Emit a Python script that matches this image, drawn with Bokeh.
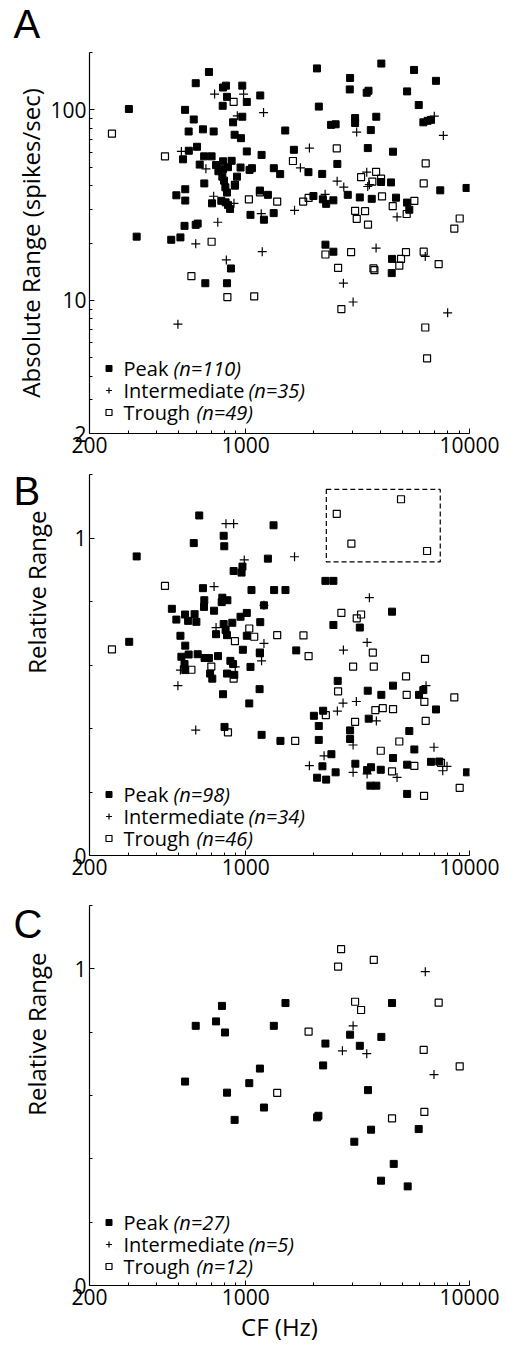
from bokeh.plotting import figure
from bokeh.layouts import column
from bokeh.models import (Range1d, FixedTicker, NumeralTickFormatter, Label, Legend,
                          LegendItem, BoxAnnotation, Title)
from bokeh.embed import file_html
from bokeh.resources import INLINE

FONT = "Open Sans"

# ---------------- data ----------------
x_ticks = [200, 1000, 10000]
x_minor = [300, 400, 500, 600, 700, 800, 900, 2000, 3000, 4000, 5000, 6000, 7000, 8000, 9000]
series_names = ["Peak", "Intermediate", "Trough"]

# Panel A: absolute range (spikes/sec)
a_peak_cf = [684, 597, 791, 815, 964, 824, 1160, 1010, 788, 300,
             535, 964, 877, 585, 643, 555, 718, 891, 951, 605,
             556, 524, 1010, 1176, 651, 703, 622, 736, 791, 864,
             754, 791, 832, 947, 1039, 1065, 1334, 1424, 785, 799,
             913, 652, 810, 824, 894, 536, 489, 536, 706, 777,
             812, 832, 850, 1156, 1255, 1332, 1049, 1205, 532, 597,
             609, 325, 464, 510, 858, 659, 824,
             2080, 4035, 5650, 7080, 2925, 2915, 3470, 3535, 5260, 2120,
             5930, 3830, 3080, 3080, 2405, 2520, 6220, 6500, 6730, 1500,
             3620, 1640, 3510, 4550, 2565, 1905, 2195, 4023, 4458, 7400,
             9700, 2856, 3233, 3656, 4694, 2005, 2210, 2286, 2463, 5257,
             5381, 2270, 2463, 4504, 4490]
a_peak_val = [158, 138, 131, 134, 134, 117, 119, 110, 105, 101,
              100, 92, 86, 89, 79, 77, 77, 74, 71, 64,
              61, 55, 60.5, 58, 57, 57, 51.6, 51.3, 53.7, 54,
              47.6, 48.8, 50, 49.8, 48.4, 49.4, 49.4, 46, 44.6, 42.5,
              44.6, 41.1, 39.2, 36.8, 40, 38.3, 35.6, 33.4, 32.3, 33.3,
              32.7, 31.7, 30.2, 37.7, 35.8, 28.7, 28.1, 26.5, 24.6, 24.9,
              25.3, 21.6, 20.8, 21.4, 14.7, 12.3, 12.3,
              165, 175, 162, 142, 147, 128, 123, 126, 125, 104,
              106, 92, 90.5, 85.3, 83.4, 84, 86, 87.6, 88.6, 77.9,
              78.3, 61.7, 63, 60.3, 52, 47.1, 46.1, 41.8, 41.6, 37.8,
              38.9, 35.8, 34.7, 34.1, 34.6, 35.3, 33.9, 32.1, 33.5, 32.6,
              29.9, 19.6, 18, 16.5, 13.9]
a_inter_cf = [725, 977, 1200, 916, 515, 663, 718, 885, 1172, 749, 597, 818, 1184, 497,
              6960, 3130, 7640, 1924, 1754, 2560, 2741, 3472, 3508, 3567, 2262, 1651,
              4743, 3822, 6343, 2730, 3017, 7986]
a_inter_val = [121, 121, 96.8, 93, 60.5, 49, 35.2, 32.3, 28.5, 25.7, 19.8, 16.3, 18, 7.5,
               92.6, 76.4, 73.4, 63, 49.6, 42.2, 39.3, 47.1, 39.6, 40.5, 36, 29.7,
               27.4, 18.8, 17, 12.3, 9.8, 8.6]
a_trough_cf = [882, 252, 435, 894, 1032, 1156, 1381, 703, 571, 827, 1090, 2550, 1624, 6370,
               3822, 3275, 3678, 4023, 6240, 4063, 1804, 1908, 4537, 5668, 3079, 3412, 3132,
               5238, 3517, 9040, 8552, 2269, 2955, 2585, 3757, 4941, 5200, 4855, 6240, 7280,
               2674, 6343, 6460, 3720]
a_trough_val = [110, 75, 57, 40.4, 33.9, 36.9, 33, 20.3, 13.4, 10.4, 10.5, 62.7, 53.9, 52.4,
                47.3, 44.3, 42, 43.5, 41.1, 35.1, 33, 34.5, 31.2, 33.3, 29.5, 29.4, 26.8,
                28.4, 25, 26.9, 23.8, 17.4, 17.9, 14.8, 14.4, 16.5, 17.9, 15.2, 18, 15.5,
                9, 7.2, 4.96, 14.7]
a_counts = [110, 35, 49]

# Panel B: relative range
b_peak_cf = [619, 1330, 796, 585, 801, 325, 1255, 966, 957, 882,
             643, 1060, 1338, 652, 650, 785, 780, 827, 1205, 467,
             721, 535, 590, 601, 552, 489, 1010, 947, 870, 1160,
             796, 812, 824, 736, 510, 301, 536, 970, 1010, 515,
             555, 609, 654, 684, 751, 853, 1156, 532, 536, 692,
             708, 824, 877, 888, 1049, 791, 1152, 1036, 803, 1176,
             1428, 1504, 2269, 2463, 4504, 2463, 3233, 1680, 2575, 3508,
             4035, 4551, 5948, 6216, 2015, 2216, 7082, 2119, 3543, 2925,
             5381, 2119, 2925, 5668, 4551, 2413, 3088, 2200, 5262, 6727,
             7327, 9744, 2083, 2286, 2520, 3485, 3630, 4011, 3604, 3833, 5262]
b_peak_val = [1.071, 1.040, 1.007, 0.984, 0.974, 0.942, 0.935, 0.910, 0.891, 0.896,
              0.842, 0.836, 0.836, 0.804, 0.783, 0.812, 0.798, 0.804, 0.788, 0.777,
              0.771, 0.759, 0.760, 0.736, 0.739, 0.743, 0.764, 0.752, 0.733, 0.735,
              0.729, 0.710, 0.694, 0.697, 0.692, 0.673, 0.661, 0.648, 0.692, 0.626,
              0.633, 0.634, 0.622, 0.622, 0.628, 0.613, 0.637, 0.603, 0.584, 0.573,
              0.557, 0.573, 0.603, 0.569, 0.594, 0.508, 0.524, 0.479, 0.405, 0.380,
              0.361, 0.836, 0.865, 0.865, 0.768, 0.726, 0.718, 0.646, 0.550, 0.519,
              0.506, 0.535, 0.506, 0.521, 0.440, 0.456, 0.460, 0.408, 0.431, 0.394,
              0.392, 0.364, 0.367, 0.334, 0.307, 0.319, 0.289, 0.281, 0.286, 0.295,
              0.296, 0.262, 0.245, 0.239, 0.262, 0.269, 0.278, 0.270, 0.220, 0.220, 0.194]
b_inter_cf = [815, 882, 984, 721, 736, 1205, 1205, 510, 897, 1176, 497, 597, 1651, 3567,
              2730, 3485, 6392, 2720, 3120, 2566, 3833, 3017, 6937, 2238, 1924, 7933, 7590,
              3017, 3485, 4743]
b_inter_val = [1.045, 1.045, 0.931, 0.847, 0.718, 0.668, 0.788, 0.584, 0.594, 0.613, 0.535,
               0.395, 0.941, 0.812, 0.647, 0.671, 0.535, 0.480, 0.485, 0.455, 0.424, 0.348,
               0.341, 0.314, 0.283, 0.281, 0.267, 0.262, 0.257, 0.246]
b_trough_cf = [435, 252, 1036, 1090, 894, 1381, 1156, 571, 701, 882, 832, 4941, 2550, 2964,
               6460, 2674, 3275, 3132, 1810, 1908, 3696, 6325, 3017, 3733, 5203, 2585, 5238,
               6283, 8552, 2279, 3794, 4095, 4551, 3079, 6370, 1662, 4855, 4011, 5668, 7456,
               4504, 6263, 9040]
b_trough_val = [0.849, 0.649, 0.715, 0.689, 0.675, 0.694, 0.639, 0.585, 0.595, 0.557, 0.388,
                1.122, 1.076, 0.982, 0.959, 0.764, 0.759, 0.747, 0.693, 0.628, 0.639, 0.619,
                0.595, 0.595, 0.564, 0.517, 0.506, 0.484, 0.498, 0.442, 0.458, 0.464, 0.461,
                0.421, 0.424, 0.361, 0.359, 0.330, 0.282, 0.292, 0.265, 0.188, 0.213]
b_counts = [98, 34, 46]
b_box_cf = [2290, 7400]
b_box_val = [0.925, 1.153]

# Panel C: relative range
c_peak_cf = [782, 597, 736, 807, 1334, 1156, 535, 1036, 824, 1205, 891, 2083, 2111, 3055,
             3630, 5927, 4583, 4023, 5292, 1504, 4504, 2269, 2925, 3233, 4035, 2216, 3517]
c_peak_val = [0.883, 0.820, 0.834, 0.799, 0.820, 0.685, 0.644, 0.639, 0.609, 0.562, 0.523,
              0.531, 0.536, 0.454, 0.492, 0.494, 0.384, 0.331, 0.313, 0.892, 0.892, 0.764,
              0.792, 0.757, 0.785, 0.695, 0.617]
c_inter_cf = [6343, 3017, 2703, 3472, 6937]
c_inter_val = [0.991, 0.820, 0.741, 0.732, 0.666]
c_trough_cf = [1381, 4504, 6283, 2666, 2585, 3733, 3079, 3275, 7280, 1908, 6240, 9040]
c_trough_val = [0.608, 0.528, 0.548, 1.062, 1.007, 1.028, 0.896, 0.870, 0.893, 0.802,
                0.744, 0.692]
c_counts = [27, 5, 12]

# ---------------- layout helpers ----------------
TEXT_DX = 34                 # legend text start (px from frame left)
ITALIC_DX = [84, 159, 107]   # italic count start (px from frame left)
ROW_H = 22


def style_axis(ax, label_size="21px"):
    ax.axis_line_color = "black"
    ax.axis_line_width = 1.2
    ax.major_tick_in = 5
    ax.major_tick_out = 0
    ax.minor_tick_in = 3
    ax.minor_tick_out = 0
    ax.major_tick_line_color = "black"
    ax.minor_tick_line_color = "black"
    ax.major_label_text_font = FONT
    ax.major_label_text_font_size = label_size
    ax.major_label_text_color = "black"
    ax.axis_label_text_font = FONT
    ax.axis_label_text_font_size = "24px"
    ax.axis_label_text_font_style = "normal"
    ax.axis_label_text_color = "black"


def make_panel(height, top, bottom, log_y, y_range, y_ticks, y_minor, ylabel,
               ylabel_standoff, ylabel_align, ylabel_offset, letter, letter_dy, series,
               counts, legend_y, xlabel=None):
    p = figure(width=507, height=height, x_axis_type="log",
               y_axis_type="log" if log_y else "linear",
               x_range=Range1d(200, 10000), y_range=Range1d(*y_range),
               output_backend="svg", toolbar_location=None,
               min_border_left=88, min_border_right=38,
               min_border_top=top, min_border_bottom=bottom)
    p.outline_line_color = None
    p.xgrid.visible = False
    p.ygrid.visible = False

    style_axis(p.xaxis[0])
    style_axis(p.yaxis[0])
    p.xaxis.ticker = FixedTicker(ticks=x_ticks, minor_ticks=x_minor)
    p.xaxis.formatter = NumeralTickFormatter(format="0")
    p.xaxis.major_label_standoff = 3
    p.yaxis.ticker = FixedTicker(ticks=y_ticks, minor_ticks=y_minor)
    p.yaxis.formatter = NumeralTickFormatter(format="0")
    p.yaxis.major_label_standoff = 3
    if xlabel:
        p.xaxis.axis_label = xlabel
        p.xaxis.axis_label_standoff = 2

    # y axis title (vertical), placed along the axis like the original
    p.add_layout(Title(text=ylabel, align=ylabel_align, offset=ylabel_offset,
                       standoff=ylabel_standoff, vertical_align="middle",
                       text_font=FONT, text_font_size="24px", text_font_style="normal",
                       text_color="black"), "left")

    (pc, pv), (ic, iv), (tc, tv) = series
    rp = p.scatter(pc, pv, marker="square", size=7, fill_color="black", line_color="black")
    ri = p.scatter(ic, iv, marker="cross", size=9, line_color="black", line_width=1.2)
    rt = p.scatter(tc, tv, marker="square", size=7, fill_alpha=0, line_color="black",
                   line_width=1.2)

    # legend: markers from Bokeh's legend, texts as labels
    legend = Legend(items=[LegendItem(label=" ", renderers=[rp]),
                           LegendItem(label=" ", renderers=[ri]),
                           LegendItem(label=" ", renderers=[rt])],
                    location=(12, legend_y), glyph_width=15, glyph_height=ROW_H,
                    label_height=ROW_H, label_width=1, label_standoff=0, spacing=0,
                    padding=0, margin=0, label_text_font_size="6px",
                    background_fill_alpha=0, border_line_alpha=0)
    p.add_layout(legend)

    for i, n in enumerate(counts):
        dy = legend_y + ROW_H // 2 + ROW_H * (2 - i)
        p.add_layout(Label(x=200, y=y_range[0], x_offset=TEXT_DX, y_offset=dy,
                           text=series_names[i], text_font=FONT, text_font_size="20px",
                           text_baseline="middle", text_color="black"))
        p.add_layout(Label(x=200, y=y_range[0], x_offset=ITALIC_DX[i], y_offset=dy,
                           text="(n=%d)" % n, text_font=FONT, text_font_size="20px",
                           text_font_style="italic", text_baseline="middle",
                           text_color="black"))

    p.add_layout(Label(x=200, y=y_range[1], x_offset=-76, y_offset=letter_dy, text=letter,
                       text_font="Liberation Sans", text_font_size="40px",
                       text_baseline="middle", text_color="black"), "right")
    return p


yA_ticks = [2, 10, 100]
yA_minor = [3, 4, 5, 6, 7, 8, 9, 20, 30, 40, 50, 60, 70, 80, 90, 200]
yR_ticks = [0, 1]
yR_minor = [0.2, 0.4, 0.6, 0.8, 1.2]

pA = make_panel(463, 52, 30, True, (2, 200), yA_ticks, yA_minor,
                "Absolute Range (spikes/sec)", 0, "center", 0, "A", 29,
                [(a_peak_cf, a_peak_val), (a_inter_cf, a_inter_val), (a_trough_cf, a_trough_val)],
                a_counts, 10)

pB = make_panel(422, 11, 30, False, (0, 1.2), yR_ticks, yR_minor,
                "Relative Range", 36, "right", 36, "B", -16,
                [(b_peak_cf, b_peak_val), (b_inter_cf, b_inter_val), (b_trough_cf, b_trough_val)],
                b_counts, 6)
pB.add_layout(BoxAnnotation(left=b_box_cf[0], right=b_box_cf[1], bottom=b_box_val[0],
                            top=b_box_val[1], fill_alpha=0, line_color="black",
                            line_alpha=1.0, line_width=1.2, line_dash="5 3"))

pC = make_panel(460, 20, 59, False, (0, 1.2), yR_ticks, yR_minor,
                "Relative Range", 36, "right", 47, "C", -18,
                [(c_peak_cf, c_peak_val), (c_inter_cf, c_inter_val), (c_trough_cf, c_trough_val)],
                c_counts, 8, xlabel="CF (Hz)")

layout = column(pA, pB, pC, spacing=0)
open("out.html", "w").write(file_html(layout, INLINE))
